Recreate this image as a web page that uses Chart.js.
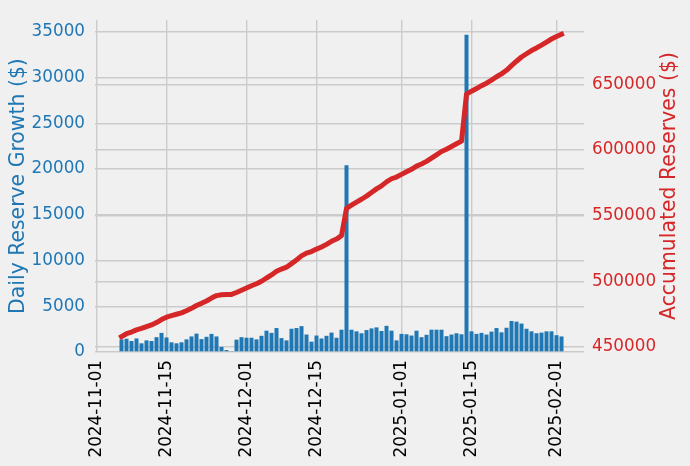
<!DOCTYPE html>
<html>
<head>
<meta charset="utf-8">
<script src="https://cdn.jsdelivr.net/npm/chart.js@4.4.1/dist/chart.umd.min.js"></script>
<style>
  html, body { margin: 0; padding: 0; background: #f0f0f0; }
  #wrap { width: 690px; height: 466px; }
</style>
</head>
<body>
<div id="wrap"><canvas id="chart" width="690" height="466"></canvas></div>
<script>
// -------------------------------
// Data
// -------------------------------
const firstDay = "2024-11-06";   // one bar per day from here
const axisOrigin = "2024-11-01"; // day 0 of the x axis

const dailyGrowth = [
  1380, 1450, 1200, 1480, 950, 1270, 1200, 1620, 2090, 1590,
  1060, 950, 1060, 1380, 1700, 2010, 1410, 1660, 1980, 1700,
  560, 210, 100, 1350, 1620, 1560, 1560, 1380, 1770, 2330,
  2090, 2620, 1520, 1270, 2540, 2620, 2830, 1910, 1130, 1800,
  1480, 1770, 2120, 1560, 2440, 20430, 2440, 2260, 2050, 2400,
  2580, 2690, 2300, 2860, 2330, 1270, 1980, 1940, 1800, 2330,
  1620, 1880, 2440, 2440, 2440, 1730, 1910, 2050, 1940, 34700,
  2260, 1980, 2090, 1910, 2230, 2620, 2150, 2650, 3390, 3320,
  3110, 2540, 2260, 2050, 2120, 2260, 2260, 1840, 1700
];

const accumulated = [
  458000, 460200, 461500, 463100, 464200, 465600, 466900, 468700, 471000, 472800,
  473900, 475000, 476100, 477700, 479500, 481700, 483300, 485100, 487300, 489200,
  489800, 490000, 490100, 491600, 493300, 495000, 496700, 498200, 500100, 502600,
  504900, 507700, 509400, 510800, 513500, 516300, 519400, 521500, 522700, 524600,
  526200, 528200, 530500, 532200, 534800, 555500, 558000, 560300, 562500, 564900,
  567600, 570400, 572700, 575700, 578100, 579400, 581400, 583400, 585300, 587700,
  589300, 591300, 593800, 596300, 598800, 600600, 602600, 604700, 606700, 642400,
  644700, 646700, 648900, 650800, 653100, 655700, 657900, 660600, 664100, 667500,
  670700, 673200, 675600, 677600, 679800, 682100, 684400, 686300, 688000
];

const xTickLabels = ["2024-11-01", "2024-11-15", "2024-12-01", "2024-12-15",
                     "2025-01-01", "2025-01-15", "2025-02-01"];
const leftTicks = [0, 5000, 10000, 15000, 20000, 25000, 30000, 35000];
const rightTicks = [450000, 500000, 550000, 600000, 650000];

// -------------------------------
// Helpers
// -------------------------------
const DAY = 86400000;
const dayNum = (s) => (Date.parse(s + "T00:00:00Z") - Date.parse(axisOrigin + "T00:00:00Z")) / DAY;
const offset0 = dayNum(firstDay);
const xDays = dailyGrowth.map((_, i) => offset0 + i);
const xTickValues = xTickLabels.map(dayNum);

const BLUE = "#1f77b4";
const RED = "#d62728";
const GRID = "#cbcbcb";
const FONT = "DejaVu Sans";

// Right-hand axis title reads bottom-to-top, like the left one
const rightTitle = {
  id: "rightTitle",
  afterDraw(chart) {
    const { ctx, chartArea } = chart;
    ctx.save();
    ctx.translate(670, (chartArea.top + chartArea.bottom) / 2);
    ctx.rotate(-Math.PI / 2);
    ctx.font = "20.4px '" + FONT + "'";
    ctx.fillStyle = RED;
    ctx.textAlign = "center";
    ctx.textBaseline = "middle";
    ctx.fillText("Accumulated Reserves ($)", 0, 0);
    ctx.restore();
  }
};

// -------------------------------
// Chart
// -------------------------------
new Chart(document.getElementById("chart"), {
  type: "bar",
  data: {
    datasets: [
      {
        type: "line",
        label: "Accumulated Reserves",
        data: xDays.map((d, i) => ({ x: d, y: accumulated[i] })),
        yAxisID: "y2",
        borderColor: RED,
        borderWidth: 5,
        borderCapStyle: "square",
        borderJoinStyle: "round",
        pointRadius: 0,
        tension: 0,
        order: 0
      },
      {
        label: "Daily Reserve Growth",
        data: xDays.map((d, i) => ({ x: d, y: dailyGrowth[i] })),
        yAxisID: "y",
        backgroundColor: BLUE,
        barPercentage: 0.8,
        categoryPercentage: 1.0,
        order: 1
      }
    ]
  },
  options: {
    responsive: false,
    animation: false,
    devicePixelRatio: 1,
    layout: { padding: { top: 11, left: 0, right: 0, bottom: 0 } },
    plugins: { legend: { display: false }, tooltip: { enabled: false } },
    scales: {
      x: {
        type: "linear",
        offset: false,
        min: -0.3,
        max: 97.5,
        afterBuildTicks: (s) => { s.ticks = xTickValues.map((v) => ({ value: v })); },
        afterFit: (s) => { s.height = 114; },
        border: { display: false },
        grid: { color: GRID, lineWidth: 1.4, drawTicks: false, offset: false },
        ticks: {
          minRotation: 90,
          maxRotation: 90,
          padding: 8,
          color: "#000",
          font: { family: FONT, size: 16.8 },
          callback: (v) => xTickLabels[xTickValues.indexOf(v)]
        }
      },
      y: {
        position: "left",
        min: 0,
        max: 36300,
        afterBuildTicks: (s) => { s.ticks = leftTicks.map((v) => ({ value: v })); },
        afterFit: (s) => { s.width = 95; },
        border: { display: false },
        grid: { color: GRID, lineWidth: 1.4, drawTicks: false },
        ticks: {
          padding: 10,
          color: BLUE,
          font: { family: FONT, size: 16.8 },
          callback: (v) => String(v)
        },
        title: {
          display: true,
          text: "Daily Reserve Growth ($)",
          color: BLUE,
          font: { family: FONT, size: 20.4 },
          padding: { top: 6.5, bottom: 0 }
        }
      },
      y2: {
        position: "right",
        min: 446300,
        max: 698800,
        afterBuildTicks: (s) => { s.ticks = rightTicks.map((v) => ({ value: v })); },
        afterFit: (s) => { s.width = 106; },
        border: { display: false },
        grid: { color: GRID, lineWidth: 1.4, drawTicks: false },
        ticks: {
          padding: 8,
          color: RED,
          font: { family: FONT, size: 16.8 },
          callback: (v) => String(v)
        }
      }
    }
  },
  plugins: [rightTitle]
});
</script>
</body>
</html>
